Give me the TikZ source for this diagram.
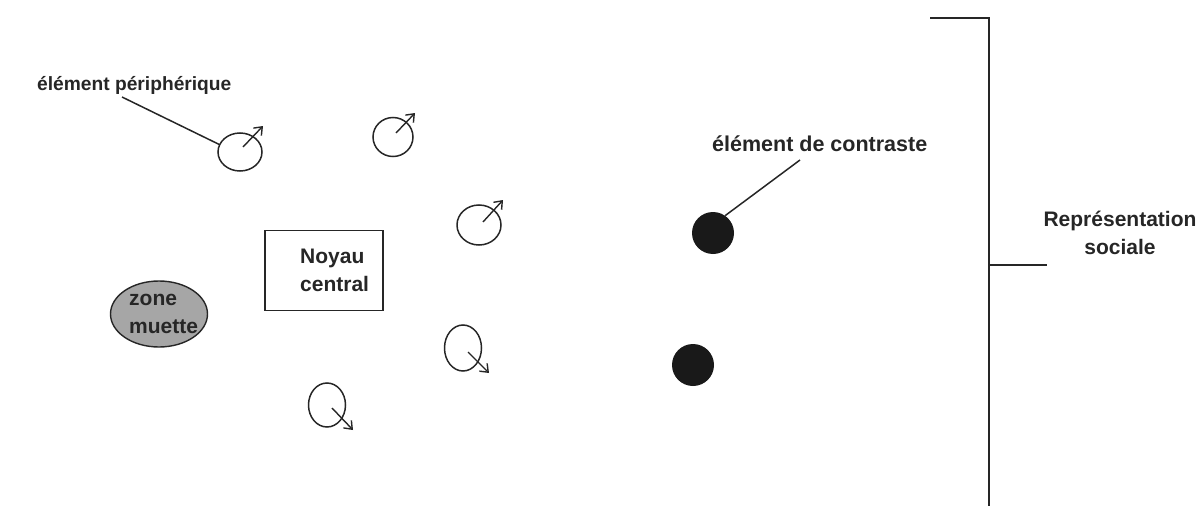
\documentclass[tikz,border=0pt]{standalone}
\usepackage{fontspec}
\setmainfont{Liberation Sans}
\usetikzlibrary{arrows.meta,shapes.geometric}
\tikzset{
  lbl/.style={font=\fontsize{21}{28}\selectfont\bfseries, text=black!85, inner sep=0pt},
  periph/.style={draw=black!85, line width=1.5pt, ellipse, inner sep=0pt},
  arr/.style={draw=black!85, line width=1.4pt, -{Straight Barb[length=7pt,width=11pt,line width=1.4pt]}},
  ln/.style={draw=black!85, line width=1.5pt},
  contrast/.style={circle, fill=black!90, inner sep=0pt, minimum size=42pt},
}
\begin{document}
\begin{tikzpicture}[x=1pt,y=-1pt]
\useasboundingbox (0,0) rectangle (1200,506);
% peripheral elements
\node[periph, minimum width=44pt, minimum height=38pt] (p1) at (240,152) {};
\node[periph, minimum width=40pt, minimum height=39pt] (p2) at (393,137) {};
\node[periph, minimum width=44pt, minimum height=40pt] (p3) at (479,225) {};
\node[periph, minimum width=37pt, minimum height=46pt] (p4) at (463,348) {};
\node[periph, minimum width=37pt, minimum height=44pt] (p5) at (327,405) {};
\coordinate (a1s) at (243,147); \coordinate (a1e) at (263,126);
\coordinate (a2s) at (396,133); \coordinate (a2e) at (415,113);
\coordinate (a3s) at (483,222); \coordinate (a3e) at (503,200);
\coordinate (a4s) at (468,352); \coordinate (a4e) at (489,373);
\coordinate (a5s) at (332,408); \coordinate (a5e) at (353,430);
\draw[arr] (a1s) -- (a1e);
\draw[arr] (a2s) -- (a2e);
\draw[arr] (a3s) -- (a3e);
\draw[arr] (a4s) -- (a4e);
\draw[arr] (a5s) -- (a5e);
% label peripheral
\node[lbl, font=\fontsize{19.2}{24}\selectfont\bfseries, anchor=base west] (lp) at (37,90) {élément périphérique};
\coordinate (lps) at (122,97);
\draw[ln] (lps) -- (p1.160);
% core
\node[draw=black!85, line width=1.5pt, minimum width=118pt, minimum height=80pt, inner sep=0pt] (core) at (324,270.5) {};
\node[lbl, anchor=base west, align=left, text width=80pt] (coretxt) at (300,263) {Noyau\\central};
% zone muette
\node[ellipse, draw=black!85, fill=black!35, line width=1.4pt, minimum width=97pt, minimum height=66pt, inner sep=0pt] (zm) at (159,314) {};
\node[lbl, anchor=base west, align=left, text width=80pt] (zmt) at (129,305) {zone\\muette};
% contrast elements
\node[contrast] (c1) at (713,233) {};
\node[contrast] (c2) at (693,365) {};
\node[lbl, font=\fontsize{21.5}{28}\selectfont\bfseries, anchor=base west] (lc) at (712,151) {élément de contraste};
\coordinate (lcs) at (800,160);
\draw[ln] (lcs) -- (c1.55);
% bracket
\coordinate (bt0) at (930,18);
\coordinate (bt1) at (989,18);
\coordinate (bm) at (989,265);
\coordinate (bb) at (989,506);
\coordinate (bm1) at (1047,265);
\draw[ln] (bt0) -- (bt1) -- (bb);
\draw[ln] (bm) -- (bm1);
\node[lbl, align=center, anchor=base] (rs) at (1120,254) {Représentation\\sociale};
\end{tikzpicture}
\end{document}
